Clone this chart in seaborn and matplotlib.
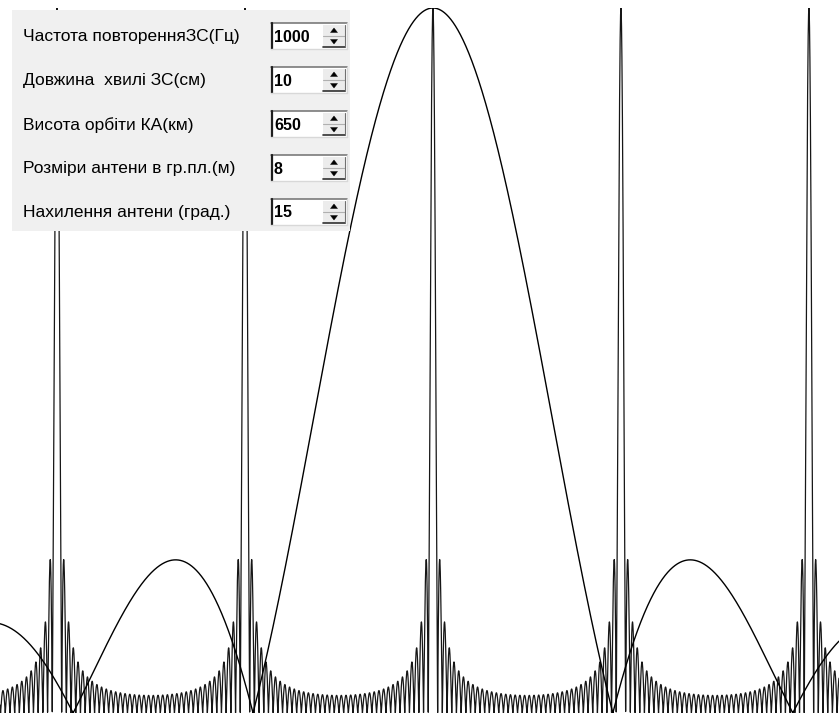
import numpy as np
import pandas as pd
import matplotlib
matplotlib.use("Agg")
import matplotlib.pyplot as plt
from matplotlib.patches import Rectangle, Polygon
from matplotlib.lines import Line2D
import seaborn as sns

# ---------------- data ----------------
panel_labels = [
    "Частота повторенняЗС(Гц)",
    "Довжина  хвилі ЗС(см)",
    "Висота орбіти КА(км)",
    "Розміри антени в гр.пл.(м)",
    "Нахилення антени (град.)",
]
panel_values = ["1000", "10", "650", "8", "15"]

prf_hz = 1000          # spacing of the periodic (ambiguity) spikes
pulses_n = 40          # number of pulses -> width / sidelobes of each spike
beam_null_hz = 957     # first null of the antenna pattern |sinc|
doppler_range_hz = [-2303, 2160]   # visible Doppler range

# ---------------- curves of the model ----------------
f = np.linspace(doppler_range_hz[0], doppler_range_hz[1], 40001)
antenna = np.abs(np.sinc(f / beam_null_hz))
den = pulses_n * np.sin(np.pi * f / prf_hz)
num = np.sin(pulses_n * np.pi * f / prf_hz)
with np.errstate(divide="ignore", invalid="ignore"):
    spikes = np.abs(np.where(np.abs(den) < 1e-9, 1.0, num / den))

df_ant = pd.DataFrame({"f": f, "level": antenna})
df_spk = pd.DataFrame({"f": f, "level": spikes})

# ---------------- figure ----------------
sns.set_theme(style="white")
plt.rcParams["font.family"] = ["Liberation Sans", "DejaVu Sans"]

W, H = 839, 717
fig = plt.figure(figsize=(W / 100, H / 100), dpi=100, facecolor="white")
ax = fig.add_axes([0, 4 / H, 1, 705 / H])

sns.lineplot(data=df_spk, x="f", y="level", ax=ax, color="#161616",
             linewidth=0.9, estimator=None)
sns.lineplot(data=df_ant, x="f", y="level", ax=ax, color="black",
             linewidth=1.0, estimator=None)
ax.set_xlim(doppler_range_hz)
ax.set_ylim(0, 1)
ax.set_axis_off()


def R(x, y, w, h, **kw):
    fig.add_artist(Rectangle((x / W, 1 - (y + h) / H), w / W, h / H,
                             transform=fig.transFigure, **kw))


def L(x1, y1, x2, y2, **kw):
    fig.add_artist(Line2D([x1 / W, x2 / W], [1 - y1 / H, 1 - y2 / H],
                          transform=fig.transFigure, **kw))


def T(xs, ys, **kw):
    fig.add_artist(Polygon(np.column_stack([np.array(xs) / W, 1 - np.array(ys) / H]),
                           closed=True, transform=fig.transFigure, **kw))


# control panel
R(12, 10, 338, 221, facecolor="#f0f0f0", edgecolor="none", zorder=10)

for i, (lab, val) in enumerate(zip(panel_labels, panel_values)):
    cy = 36 + 44 * i
    fig.text(23 / W, 1 - (cy + 1) / H, lab, ha="left", va="center",
             fontsize=12.5, color="black", zorder=12)
    x0, x1, y0, y1 = 271, 347, cy - 13, cy + 13
    R(x0, y0, x1 - x0, y1 - y0, facecolor="white", edgecolor="none", zorder=11)
    # spin buttons
    R(323, y0 + 2, 22, y1 - y0 - 4, facecolor="#ececec", edgecolor="none", zorder=11)
    L(323, cy, 345, cy, color="#b0b0b0", lw=0.8, zorder=12)
    L(323, y1 - 2, 345, y1 - 2, color="#303030", lw=1.2, zorder=12)
    L(345, y0 + 2, 345, y1 - 2, color="#707070", lw=0.8, zorder=12)
    T([330.5, 337.5, 334], [cy - 3.5, cy - 3.5, cy - 8], facecolor="black",
      edgecolor="black", lw=0.3, zorder=13)
    T([330.5, 337.5, 334], [cy + 3.5, cy + 3.5, cy + 8], facecolor="black",
      edgecolor="black", lw=0.3, zorder=13)
    # sunken border
    L(x0, y0, x1, y0, color="#7a7a7a", lw=1.2, zorder=12)
    L(x0 + 0.7, y0, x0 + 0.7, y1, color="#202020", lw=1.6, zorder=12)
    L(x1, y0, x1, y1, color="#d8d8d8", lw=1.0, zorder=12)
    L(x0, y1, x1, y1, color="#d8d8d8", lw=1.0, zorder=12)
    fig.text(274 / W, 1 - (cy + 1) / H, val, ha="left", va="center",
             fontsize=11.5, fontweight="bold", color="black", zorder=13)

fig.savefig("out.png", dpi=100, facecolor="white")
